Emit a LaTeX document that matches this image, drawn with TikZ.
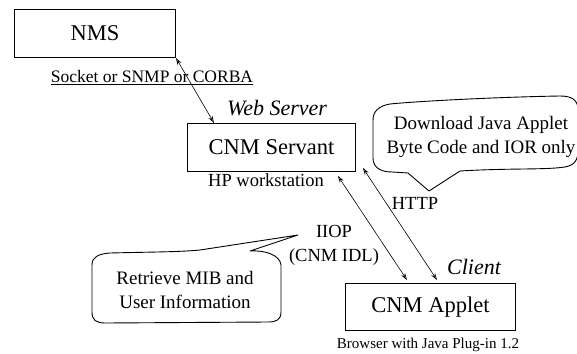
\documentclass[tikz,border=0pt]{standalone}
\usepackage{fontspec}
\setmainfont{Liberation Serif}
\usetikzlibrary{arrows.meta}

\begin{document}
\begin{tikzpicture}[x=1pt,y=-1pt,
  box/.style={draw,line width=0.9pt,minimum height=48pt,inner sep=0pt,anchor=north west,font=\fontsize{22.5}{24}\selectfont},
  lbl/.style={inner sep=0pt,font=\fontsize{18.5}{20}\selectfont},
  tag/.style={inner sep=0pt,font=\fontsize{22}{24}\selectfont\itshape},
  note/.style={inner sep=0pt,align=center,font=\fontsize{19}{23.5}\selectfont},
  bubble/.style={line width=0.9pt,line join=round},
  link/.style={<->,line width=0.6pt,>={Stealth[length=7pt,width=4.5pt,fill=gray!50]}}]
   \useasboundingbox (0,0) rectangle (577,353);
   \clip (0,0) rectangle (577,353);
   % boxes
   \node[box,minimum width=161pt] (nms) at (14,9) {NMS};
   \node[box,minimum width=168pt] (servant) at (187,123) {CNM Servant};
   \node[box,minimum width=170pt,minimum height=47pt] (applet) at (345,283) {CNM Applet};
   % labels
   \node[lbl,font=\fontsize{17.5}{20}\selectfont] (proto) at (152,78) {\underline{Socket or SNMP or CORBA}};
   \node[tag] (web) at (277,108) {Web Server};
   \node[lbl] (hp) at (266,180) {HP workstation};
   \node[tag] (client) at (474,267) {Client};
   \node[lbl,font=\fontsize{15}{17}\selectfont] (browser) at (428,345) {Browser with Java Plug-in 1.2};
   \node[lbl] (http) at (415,203) {HTTP};
   \node[lbl,align=center,font=\fontsize{18.5}{24}\selectfont] (iiop) at (334,245) {IIOP\\(CNM IDL)};
   % callouts
   \draw[bubble] (408,173) -- (429,191) -- (460,171) .. controls (510,168) and (545,170) .. (565,167)
     .. controls (575,165) and (578,160) .. (578,150) -- (578,110) .. controls (578,100) and (572,96) .. (560,96)
     .. controls (500,97) and (420,101) .. (390,104) .. controls (378,106) and (373,112) .. (373,120)
     -- (373,158) .. controls (373,167) and (380,172) .. (392,172) -- cycle;
   \node[note] (download) at (481,137) {Download Java Applet\\Byte Code and IOR only};
   \draw[bubble] (200,250) -- (298,235) -- (250,251) .. controls (265,250) and (280,255) .. (281,265)
     -- (281,312) .. controls (281,320) and (276,322) .. (268,322) -- (105,323)
     .. controls (96,323) and (92,320) .. (92,312) -- (92,265) .. controls (92,257) and (98,254) .. (110,253)
     .. controls (150,252) and (180,252) .. (200,250);
   \node[note,font=\fontsize{19}{24}\selectfont] (retrieve) at (185,290) {Retrieve MIB and\\User Information};
   % connectors
   \draw[link] (nms.south east) -- ([xshift=27pt]servant.north west);
   \draw[link] ([shift={(7pt,4pt)}]servant.south east) -- ([shift={(92pt,3pt)}]applet.north west);
   \draw[link] ([shift={(-18pt,-4pt)}]servant.south east) -- ([shift={(62pt,3pt)}]applet.north west);
\end{tikzpicture}
\end{document}
